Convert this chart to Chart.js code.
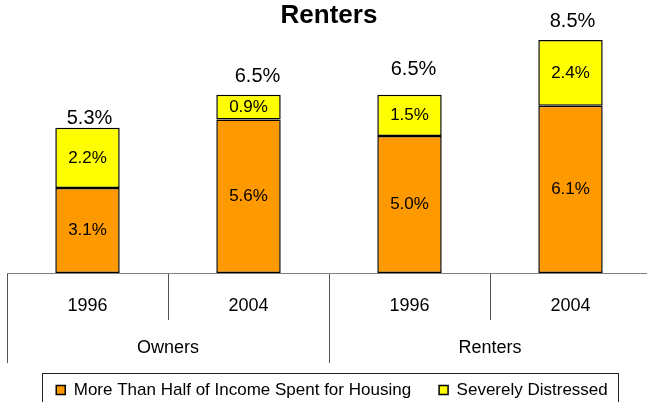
<!DOCTYPE html>
<html><head><meta charset="utf-8">
<script src="https://cdn.jsdelivr.net/npm/chart.js@4/dist/chart.umd.min.js"></script>
<style>html,body{margin:0;padding:0;background:#fff;overflow:hidden}canvas{display:block}</style>
</head><body>
<canvas id="c" width="651" height="402"></canvas>
<script>
const years = ['1996', '2004', '1996', '2004'];
const groups = ['Owners', 'Renters'];
const seriesNames = ['More Than Half of Income Spent for Housing', 'Severely Distressed'];
const halfIncome = [3.1, 5.6, 5.0, 6.1];
const distressed = [2.2, 0.9, 1.5, 2.4];
const totals = [5.3, 6.5, 6.5, 8.5];

const FONT = "'Liberation Sans', Arial, sans-serif";

const barLabels = {
  id: 'barLabels',
  afterDatasetsDraw(chart, args, opts) {
    const ctx = chart.ctx;
    ctx.save();
    ctx.fillStyle = '#000';
    ctx.textAlign = 'center';
    ctx.textBaseline = 'middle';
    ctx.font = '17px ' + FONT;
    chart.data.datasets.forEach((ds, di) => {
      chart.getDatasetMeta(di).data.forEach((el, i) => {
        ctx.fillText(ds.data[i].toFixed(1) + '%', el.x, (el.y + el.base) / 2);
      });
    });
    const topEls = chart.getDatasetMeta(chart.data.datasets.length - 1).data;
    ctx.font = '20px ' + FONT;
    topEls.forEach((el, i) => {
      ctx.fillText(totals[i].toFixed(1) + '%', el.x + opts.dx[i], el.y - opts.dy[i]);
    });
    ctx.restore();
  }
};

const legendFrame = {
  id: 'legendFrame',
  afterLayout(chart, args, opts) {
    const lg = chart.legend;
    lg.left += opts.shift; lg.right += opts.shift;
  },
  afterDraw(chart) {
    const lg = chart.legend;
    const ctx = chart.ctx;
    const pad = lg.options.labels.padding;
    const lw = lg.lineWidths[0];
    const start = (lg.left + pad + lg.right - lw) / 2;
    const end = start + lw - pad;
    const cy = lg.top + pad + 17 / 2;
    ctx.save();
    ctx.strokeStyle = '#222';
    ctx.lineWidth = 1;
    ctx.strokeRect(Math.round(start - 14) + 0.5, Math.round(cy - 17) + 0.5, Math.round(end - start + 24), 60);
    ctx.restore();
  }
};

new Chart(document.getElementById('c'), {
  type: 'bar',
  data: {
    labels: years,
    datasets: [
      { label: seriesNames[0], data: halfIncome, backgroundColor: '#FF9900', borderColor: '#000', borderWidth: 1.5, borderSkipped: false },
      { label: seriesNames[1], data: distressed, backgroundColor: '#FFFF00', borderColor: '#000', borderWidth: 1.5, borderSkipped: false }
    ]
  },
  options: {
    responsive: false,
    animation: false,
    events: [],
    datasets: { bar: { barPercentage: 0.4, categoryPercentage: 1 } },
    layout: { padding: { left: 7, right: 0, top: 0, bottom: -6.5 } },
    scales: {
      y: { display: false, stacked: true, min: 0, max: 8.9 },
      x: {
        stacked: true,
        weight: 0,
        grid: { offset: true, drawOnChartArea: false, drawTicks: true, tickLength: 47, color: '#555', lineWidth: 1 },
        border: { display: true, color: '#808080', width: 1 },
        ticks: { color: '#000', font: { family: FONT, size: 18 }, padding: -25, autoSkip: false, maxRotation: 0 },
        afterFit(s) { s.height = 47; }
      },
      x2: {
        type: 'category',
        labels: groups,
        position: 'bottom',
        offset: true,
        weight: 1,
        grid: { offset: true, drawOnChartArea: false, drawTicks: true, tickLength: 43, color: '#555', lineWidth: 1 },
        border: { display: false },
        ticks: { color: '#000', font: { family: FONT, size: 18 }, padding: -26, autoSkip: false, maxRotation: 0 },
        afterFit(s) { s.height = 33.5; }
      }
    },
    plugins: {
      title: { display: true, text: 'Renters', color: '#000', font: { family: FONT, size: 26, weight: 'bold', lineHeight: 1 }, padding: { top: 3, bottom: 0 } },
      legend: {
        position: 'bottom',
        labels: { boxWidth: 9, boxHeight: 9, padding: 28, color: '#000', font: { family: FONT, size: 17 } }
      },
      tooltip: { enabled: false },
      barLabels: { dx: [2, 9, 4, 2], dy: [9, 18, 25, 18] },
      legendFrame: { shift: 3 }
    }
  },
  plugins: [barLabels, legendFrame]
});
</script>
</body></html>
